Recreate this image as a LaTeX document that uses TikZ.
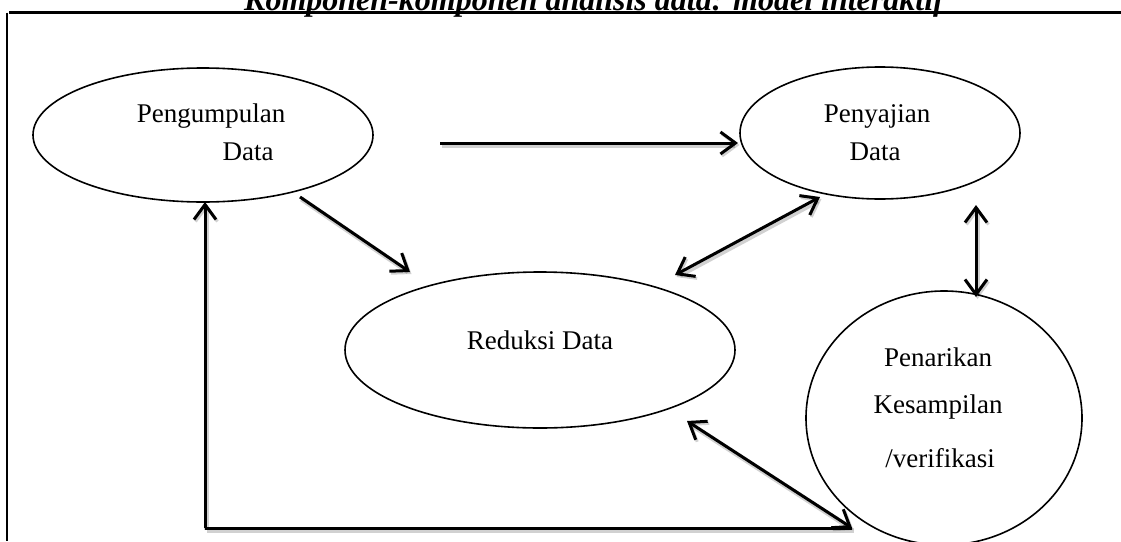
\documentclass[tikz,border=0pt]{standalone}
\usepackage{fontspec}
\setmainfont{Liberation Serif}
\usetikzlibrary{shapes.geometric,arrows.meta}
\tikzset{
  ell/.style={draw,ellipse,line width=1.6pt,inner sep=0pt},
  txt/.style={inner sep=0pt,font=\fontsize{27}{27}\selectfont},
  shad/.style={preaction={draw=black,opacity=0.18,line width=5pt,transform canvas={xshift=1.5pt,yshift=-2pt}}},
  arr/.style={shad,line width=3pt,-{Straight Barb[length=15pt,width=22pt,line width=3pt]}},
  darr/.style={shad,line width=3pt,{Straight Barb[length=15pt,width=22pt,line width=3pt]}-{Straight Barb[length=15pt,width=22pt,line width=3pt]}},
  plain/.style={shad,line width=3pt},
  frame/.style={line width=2.6pt}
}
\begin{document}
\begin{tikzpicture}[x=1pt,y=-1pt]
\useasboundingbox (0,0) rectangle (1121,541);
\begin{scope}
\clip (0,0) rectangle (1121,541);
\node[inner sep=0pt,anchor=base,font=\fontsize{32}{32}\selectfont\bfseries\itshape] (title) at (594,10.5) {Komponen-komponen analisis data: model interaktif};
\end{scope}
\coordinate (fl) at (9,12.5);
\coordinate (fr) at (1121,12.5);
\coordinate (fb) at (7,541);
\draw[frame] (fl) -- (fr);
\draw[frame] ([xshift=-2pt]fl) -- (fb);
% ellipses
\node[ell,minimum width=340pt,minimum height=134pt] (peng) at (203,135) {};
\node[ell,minimum width=280pt,minimum height=132pt] (peny) at (880,133) {};
\node[ell,minimum width=390pt,minimum height=156pt] (red) at (540,350) {};
\node[ell,minimum width=276pt,minimum height=254pt] (pen) at (944,418) {};
% texts
\node[txt] (t1) at (211,116) {Pengumpulan};
\node[txt] (t2) at (248,152) {Data};
\node[txt] (t3) at (877,116) {Penyajian};
\node[txt] (t4) at (875,152) {Data};
\node[txt] (t5) at (540,340) {Reduksi Data};
\node[txt] (t6) at (938,357) {Penarikan};
\node[txt] (t7) at (938,407) {Kesampilan};
\node[txt] (t8) at (940,458) {/verifikasi};
% connector end points
\coordinate (a1s) at (440,143);
\coordinate (a1e) at (738,143);
\coordinate (a2s) at (300,197);
\coordinate (a2e) at (410,272);
\coordinate (a3s) at (675,275);
\coordinate (a3e) at (820,197);
\coordinate (a4s) at (976,205);
\coordinate (a4e) at (976,297);
\coordinate (a5s) at (687,421);
\coordinate (a5e) at (852,528);
\coordinate (a6c) at (205,528);
\coordinate (a6e) at (205,202);
\draw[arr] (a1s) -- (a1e);
\draw[arr] (a2s) -- (a2e);
\draw[darr] (a3s) -- (a3e);
\draw[darr] (a4s) -- (a4e);
\draw[plain] (a5e) -- (a6c);
\draw[arr] (a6c) -- (a6e);
\draw[darr] (a5s) -- (a5e);
\end{tikzpicture}
\end{document}
